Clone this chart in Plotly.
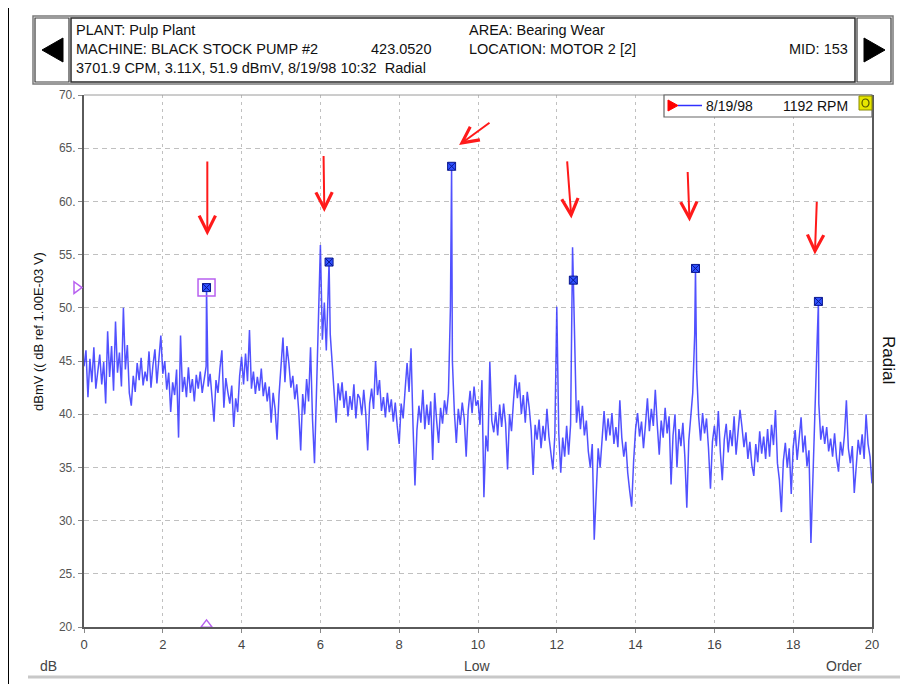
import numpy as np
import plotly.graph_objects as go

# ---------------- data ----------------
order_start = 0.0
order_step = 0.05

levels_0_5 = [
    44.5, 46.0, 41.6, 45.2, 43.0, 46.3, 42.4, 44.1, 45.6, 42.8, 44.9, 41.0, 47.8, 43.5, 46.4, 42.2, 48.7, 43.9, 45.8, 42.6,
    50.0, 44.2, 46.5, 42.0, 40.8, 43.6, 42.1, 44.8, 43.2, 45.3, 42.7, 44.0, 43.1, 45.9, 42.5, 44.6, 46.1, 42.9, 45.2, 47.4,
    43.8, 45.0, 42.3, 43.9, 40.2, 43.0, 41.8, 44.2, 37.8, 47.4, 42.1, 43.5, 41.6, 44.4, 42.0, 43.3, 41.2, 43.7, 42.4, 44.0,
    42.0, 43.1, 44.5, 42.6, 43.8, 41.5, 39.3, 43.2, 42.0, 44.3, 46.0, 40.6, 43.4, 42.1, 41.0, 42.7, 38.8, 41.5, 40.2, 43.6,
    45.4, 42.8, 45.7, 43.1, 47.9, 42.4, 44.0, 41.9, 43.5, 42.2, 44.3, 41.7, 43.0, 41.2, 42.6, 39.2, 42.0, 40.5, 37.6, 41.8,
]
levels_5_10 = [
    44.6, 47.2, 43.0, 46.4, 44.8, 42.5, 43.6, 41.4, 42.8, 40.3, 36.6, 41.9, 40.0, 43.3, 41.2, 46.3, 39.5, 35.4, 42.0, 48.5,
    55.9, 47.0, 50.5, 46.0, 51.0, 47.5, 44.8, 42.6, 39.2, 42.9, 41.3, 43.0, 40.6, 42.2, 39.8, 41.7, 40.4, 42.8, 39.6, 41.9,
    41.5, 39.9, 42.3, 40.1, 36.6, 41.0, 42.4, 40.5, 45.0, 41.8, 43.2, 40.3, 41.6, 39.7, 42.0, 40.2, 41.4, 39.3, 41.1, 38.9,
    37.2, 41.0, 39.6, 42.3, 44.8, 42.1, 46.2, 39.0, 33.3, 38.5, 40.8, 39.2, 42.3, 38.6, 40.9, 39.0, 41.2, 35.7, 42.0, 39.4,
    37.3, 40.6, 39.1, 41.3, 40.0, 42.0, 50.0, 45.0, 40.2, 37.3, 40.5, 39.0, 41.1, 39.6, 36.0, 40.3, 42.2, 40.1, 42.6, 40.8,
]
levels_10_15 = [
    41.3, 39.0, 43.2, 32.2, 38.0, 36.5, 44.9, 39.4, 38.3, 40.2, 38.0, 40.9, 38.8, 41.0, 39.1, 34.8, 40.0, 38.4, 41.2, 43.7,
    41.5, 43.0, 40.0, 41.8, 39.2, 42.1, 40.6, 38.5, 34.3, 39.0, 37.6, 39.5, 36.8, 38.9, 37.5, 40.5, 37.9, 36.2, 34.8, 38.0,
    50.1, 38.2, 34.5, 37.8, 36.0, 38.9, 36.2, 39.0, 55.7, 48.0, 39.2, 41.3, 38.6, 40.8, 38.0, 39.4, 36.5, 35.0, 37.2, 28.2,
    33.5, 36.8, 35.0, 38.2, 40.3, 37.5, 39.6, 38.0, 40.1, 37.2, 38.8, 36.9, 41.3, 37.8, 36.0, 37.4, 34.5, 32.8, 31.3, 35.6,
    38.6, 40.1, 37.9, 39.3, 36.8, 39.0, 41.5, 38.4, 40.5, 38.9, 42.3, 39.0, 36.2, 39.4, 37.8, 40.6, 38.2, 39.8, 33.4, 38.0,
]
levels_15_20 = [
    40.0, 35.0, 38.6, 37.0, 39.2, 36.0, 31.2, 37.5, 39.5, 42.0, 47.5, 44.0, 39.8, 37.5, 40.1, 38.2, 39.6, 36.8, 33.0, 37.4,
    38.9, 37.0, 40.3, 36.5, 33.8, 37.6, 39.1, 36.4, 38.5, 37.0, 39.8, 36.2, 38.1, 40.4, 38.8, 36.9, 38.3, 35.8, 37.4, 35.2,
    34.2, 37.2, 35.5, 38.4, 36.3, 37.9, 35.8, 38.6, 36.0, 39.0, 37.1, 40.4, 35.4, 33.8, 30.8, 35.6, 37.3, 35.0, 36.8, 32.5,
    36.9, 38.5, 35.7, 37.8, 39.7, 36.4, 38.0, 35.1, 36.6, 27.9, 35.2, 40.0, 46.0, 41.0, 37.6, 38.9, 37.2, 38.8, 36.5, 37.7,
    36.0, 38.2, 35.9, 34.6, 37.4, 36.1, 38.0, 41.3, 36.8, 35.4, 37.0, 32.6, 35.5, 37.6, 36.2, 38.1, 35.8, 40.0, 37.2, 36.0,
    33.5,
]

peak_orders = [3.11, 6.22, 9.33, 12.42, 15.52, 18.64]
peak_levels = [51.9, 54.3, 63.3, 52.6, 53.7, 50.6]

y_tick_values = [20, 25, 30, 35, 40, 45, 50, 55, 60, 65, 70]
y_tick_labels = ["20.", "25.", "30.", "35.", "40.", "45.", "50.", "55.", "60.", "65.", "70."]
x_tick_values = [0, 2, 4, 6, 8, 10, 12, 14, 16, 18, 20]

cursor_level = 51.9
legend_date = "8/19/98"
legend_rpm = "1192 RPM"

# arrows: (tail order, tail level, tip order, tip level)
arrow_tails_x = [3.13, 6.08, 10.33, 12.26, 15.32, 18.60]
arrow_tails_y = [63.9, 64.4, 67.5, 63.9, 62.9, 60.1]
arrow_tips_x = [3.13, 6.10, 9.52, 12.37, 15.37, 18.55]
arrow_tips_y = [56.8, 59.0, 65.3, 58.4, 58.1, 55.0]

# ---------------- build series ----------------
grid_levels = levels_0_5 + levels_5_10 + levels_10_15 + levels_15_20
grid_orders = order_start + order_step * np.arange(len(grid_levels))
all_orders = np.concatenate([grid_orders, np.array(peak_orders)])
all_levels = np.concatenate([np.array(grid_levels), np.array(peak_levels)])
idx = np.argsort(all_orders, kind="stable")
all_orders = all_orders[idx]
all_levels = all_levels[idx]

FONT = "Liberation Sans, Arial, sans-serif"
W, H = 908, 684
OFF = 8  # page body margin
L, R, T, B = 84, 872, 95, 627  # plot area in screen pixels


def PX(px):
    return (px - L) / (R - L)


def PY(py):
    return (B - py) / (B - T)


fig = go.Figure()

fig.add_trace(go.Scatter(
    x=all_orders, y=all_levels, mode="lines",
    line=dict(color="rgba(50,50,255,0.85)", width=1.5),
    hoverinfo="skip", showlegend=False,
))

fig.add_trace(go.Scatter(
    x=peak_orders, y=peak_levels, mode="markers",
    marker=dict(symbol="square-x", size=8, color="#2f50ff",
                line=dict(color="#0a1890", width=1)),
    hoverinfo="skip", showlegend=False,
))

# cursor box around first peak
fig.add_trace(go.Scatter(
    x=[peak_orders[0]], y=[peak_levels[0]], mode="markers",
    marker=dict(symbol="square-open", size=17, color="#b860f0",
                line=dict(width=1.5)),
    hoverinfo="skip", showlegend=False,
))
# bottom cursor triangle
fig.add_trace(go.Scatter(
    x=[peak_orders[0]], y=[20.2], mode="markers", cliponaxis=False,
    marker=dict(symbol="triangle-up-open", size=10, color="#b860f0",
                line=dict(width=1.5)),
    hoverinfo="skip", showlegend=False,
))

shapes = []
annotations = []

# left cursor triangle (level marker at y axis)
cy = (cursor_level - 20) / 50
shapes.append(dict(type="path", xref="paper", yref="paper",
                   path=f"M {PX(74)} {cy+0.011} L {PX(82)} {cy} L {PX(74)} {cy-0.011} Z",
                   line=dict(color="#b860f0", width=1.5), fillcolor="rgba(0,0,0,0)"))

# top plot border
shapes.append(dict(type="line", xref="paper", yref="paper", x0=0, x1=1, y0=1, y1=1,
                   line=dict(color="#9a9a9a", width=1)))

# window borders
shapes.append(dict(type="line", xref="paper", yref="paper", x0=PX(8), x1=PX(908), y0=PY(6), y1=PY(6),
                   line=dict(color="black", width=2)))
shapes.append(dict(type="line", xref="paper", yref="paper", x0=PX(8), x1=PX(8), y0=PY(6), y1=PY(684),
                   line=dict(color="black", width=2)))
shapes.append(dict(type="line", xref="paper", yref="paper", x0=PX(28), x1=PX(908), y0=PY(677), y1=PY(677),
                   line=dict(color="#c8c8c8", width=3)))

# header boxes
def rect(x0, y0, x1, y1, color, width, fill="rgba(0,0,0,0)"):
    shapes.append(dict(type="rect", xref="paper", yref="paper",
                       x0=PX(x0), x1=PX(x1), y0=PY(y1), y1=PY(y0),
                       line=dict(color=color, width=width), fillcolor=fill))

rect(33, 16, 893, 84, "#7a7a7a", 1.5)
rect(35, 18, 69, 82, "#3a3a3a", 1.2)
rect(857, 18, 891, 82, "#3a3a3a", 1.2)
rect(71, 18, 855, 82, "#2a2a2a", 1.5)
# arrow buttons
shapes.append(dict(type="path", xref="paper", yref="paper",
                   path=f"M {PX(42)} {PY(50)} L {PX(63)} {PY(38)} L {PX(63)} {PY(62)} Z",
                   line=dict(color="black", width=1), fillcolor="black"))
shapes.append(dict(type="path", xref="paper", yref="paper",
                   path=f"M {PX(885)} {PY(50)} L {PX(864)} {PY(38)} L {PX(864)} {PY(62)} Z",
                   line=dict(color="black", width=1), fillcolor="black"))

def text(px, py, s, size=11, anchor="left", color="#111", angle=0):
    annotations.append(dict(xref="paper", yref="paper", x=PX(px), y=PY(py), text=s,
                            showarrow=False, xanchor=anchor, yanchor="middle",
                            textangle=angle,
                            font=dict(family=FONT, size=size, color=color)))

HS = 14.5
text(74, 30, "PLANT: Pulp Plant", size=HS)
text(467, 30, "AREA: Bearing Wear", size=HS)
text(74, 49, "MACHINE: BLACK STOCK PUMP #2", size=HS)
text(369, 49, "423.0520", size=HS)
text(467, 49, "LOCATION: MOTOR 2 [2]", size=HS)
text(850, 49, "MID: 153", anchor="right", size=HS)
text(74, 68, "3701.9 CPM, 3.11X, 51.9 dBmV, 8/19/98 10:32  Radial", size=HS)

# legend box
rect(664, 95, 872, 117, "#666", 1.2, fill="white")
shapes.append(dict(type="path", xref="paper", yref="paper",
                   path=f"M {PX(668)} {PY(100)} L {PX(678)} {PY(105.5)} L {PX(668)} {PY(111)} Z",
                   line=dict(color="red", width=1), fillcolor="red"))
shapes.append(dict(type="line", xref="paper", yref="paper", x0=PX(678), x1=PX(702), y0=PY(105.5), y1=PY(105.5),
                   line=dict(color="#3030ff", width=1.5)))
rect(859, 96, 872, 110, "#8a8a00", 1, fill="#e6e600")
shapes.append(dict(type="circle", xref="paper", yref="paper",
                   x0=PX(862), x1=PX(869), y0=PY(107), y1=PY(99),
                   line=dict(color="#555500", width=1.2)))
text(704, 106, legend_date, size=14)
text(781, 106, legend_rpm, size=14)

# axis labels
text(38, 332, "dBmV (( dB ref 1.00E-03 V)", size=13, anchor="center", angle=-90)
text(889, 360, "Radial", size=17, anchor="center", angle=90)
text(48, 666, "dB", size=14, anchor="center", color="#444")
text(477, 666, "Low", size=14, anchor="center", color="#444")
text(844, 666, "Order", size=14, anchor="center", color="#444")

# red arrows
for tx, ty, hx, hy in zip(arrow_tails_x, arrow_tails_y, arrow_tips_x, arrow_tips_y):
    annotations.append(dict(x=hx, y=hy, ax=tx, ay=ty, xref="x", yref="y", axref="x", ayref="y",
                            text="", showarrow=True, arrowhead=5, arrowsize=1.6,
                            arrowwidth=2, arrowcolor="#ff1a1a"))

fig.update_layout(
    width=W, height=H,
    margin=dict(l=L - OFF, r=W - (R - OFF), t=T - OFF, b=H - (B - OFF)),
    paper_bgcolor="white", plot_bgcolor="white",
    font=dict(family=FONT, size=12, color="#444"),
    shapes=shapes, annotations=annotations,
    showlegend=False,
)
fig.update_xaxes(
    range=[0, 20], tickvals=x_tick_values, ticks="outside", ticklen=4, tickcolor="#888",
    showgrid=True, gridcolor="#c0c0c0", griddash="3px,4px", gridwidth=1,
    showline=True, linecolor="#5a5a5a", linewidth=2, zeroline=False,
    tickfont=dict(family=FONT, size=13, color="#444"),
)
fig.update_yaxes(
    range=[20, 70], tickvals=y_tick_values, ticktext=y_tick_labels,
    ticks="outside", ticklen=4, tickcolor="#888",
    showgrid=True, gridcolor="#c0c0c0", griddash="5px,4px", gridwidth=1,
    showline=True, linecolor="#5a5a5a", linewidth=2, mirror=True, zeroline=False,
    tickfont=dict(family=FONT, size=12, color="#555"),
)

fig.write_html("out.html")
